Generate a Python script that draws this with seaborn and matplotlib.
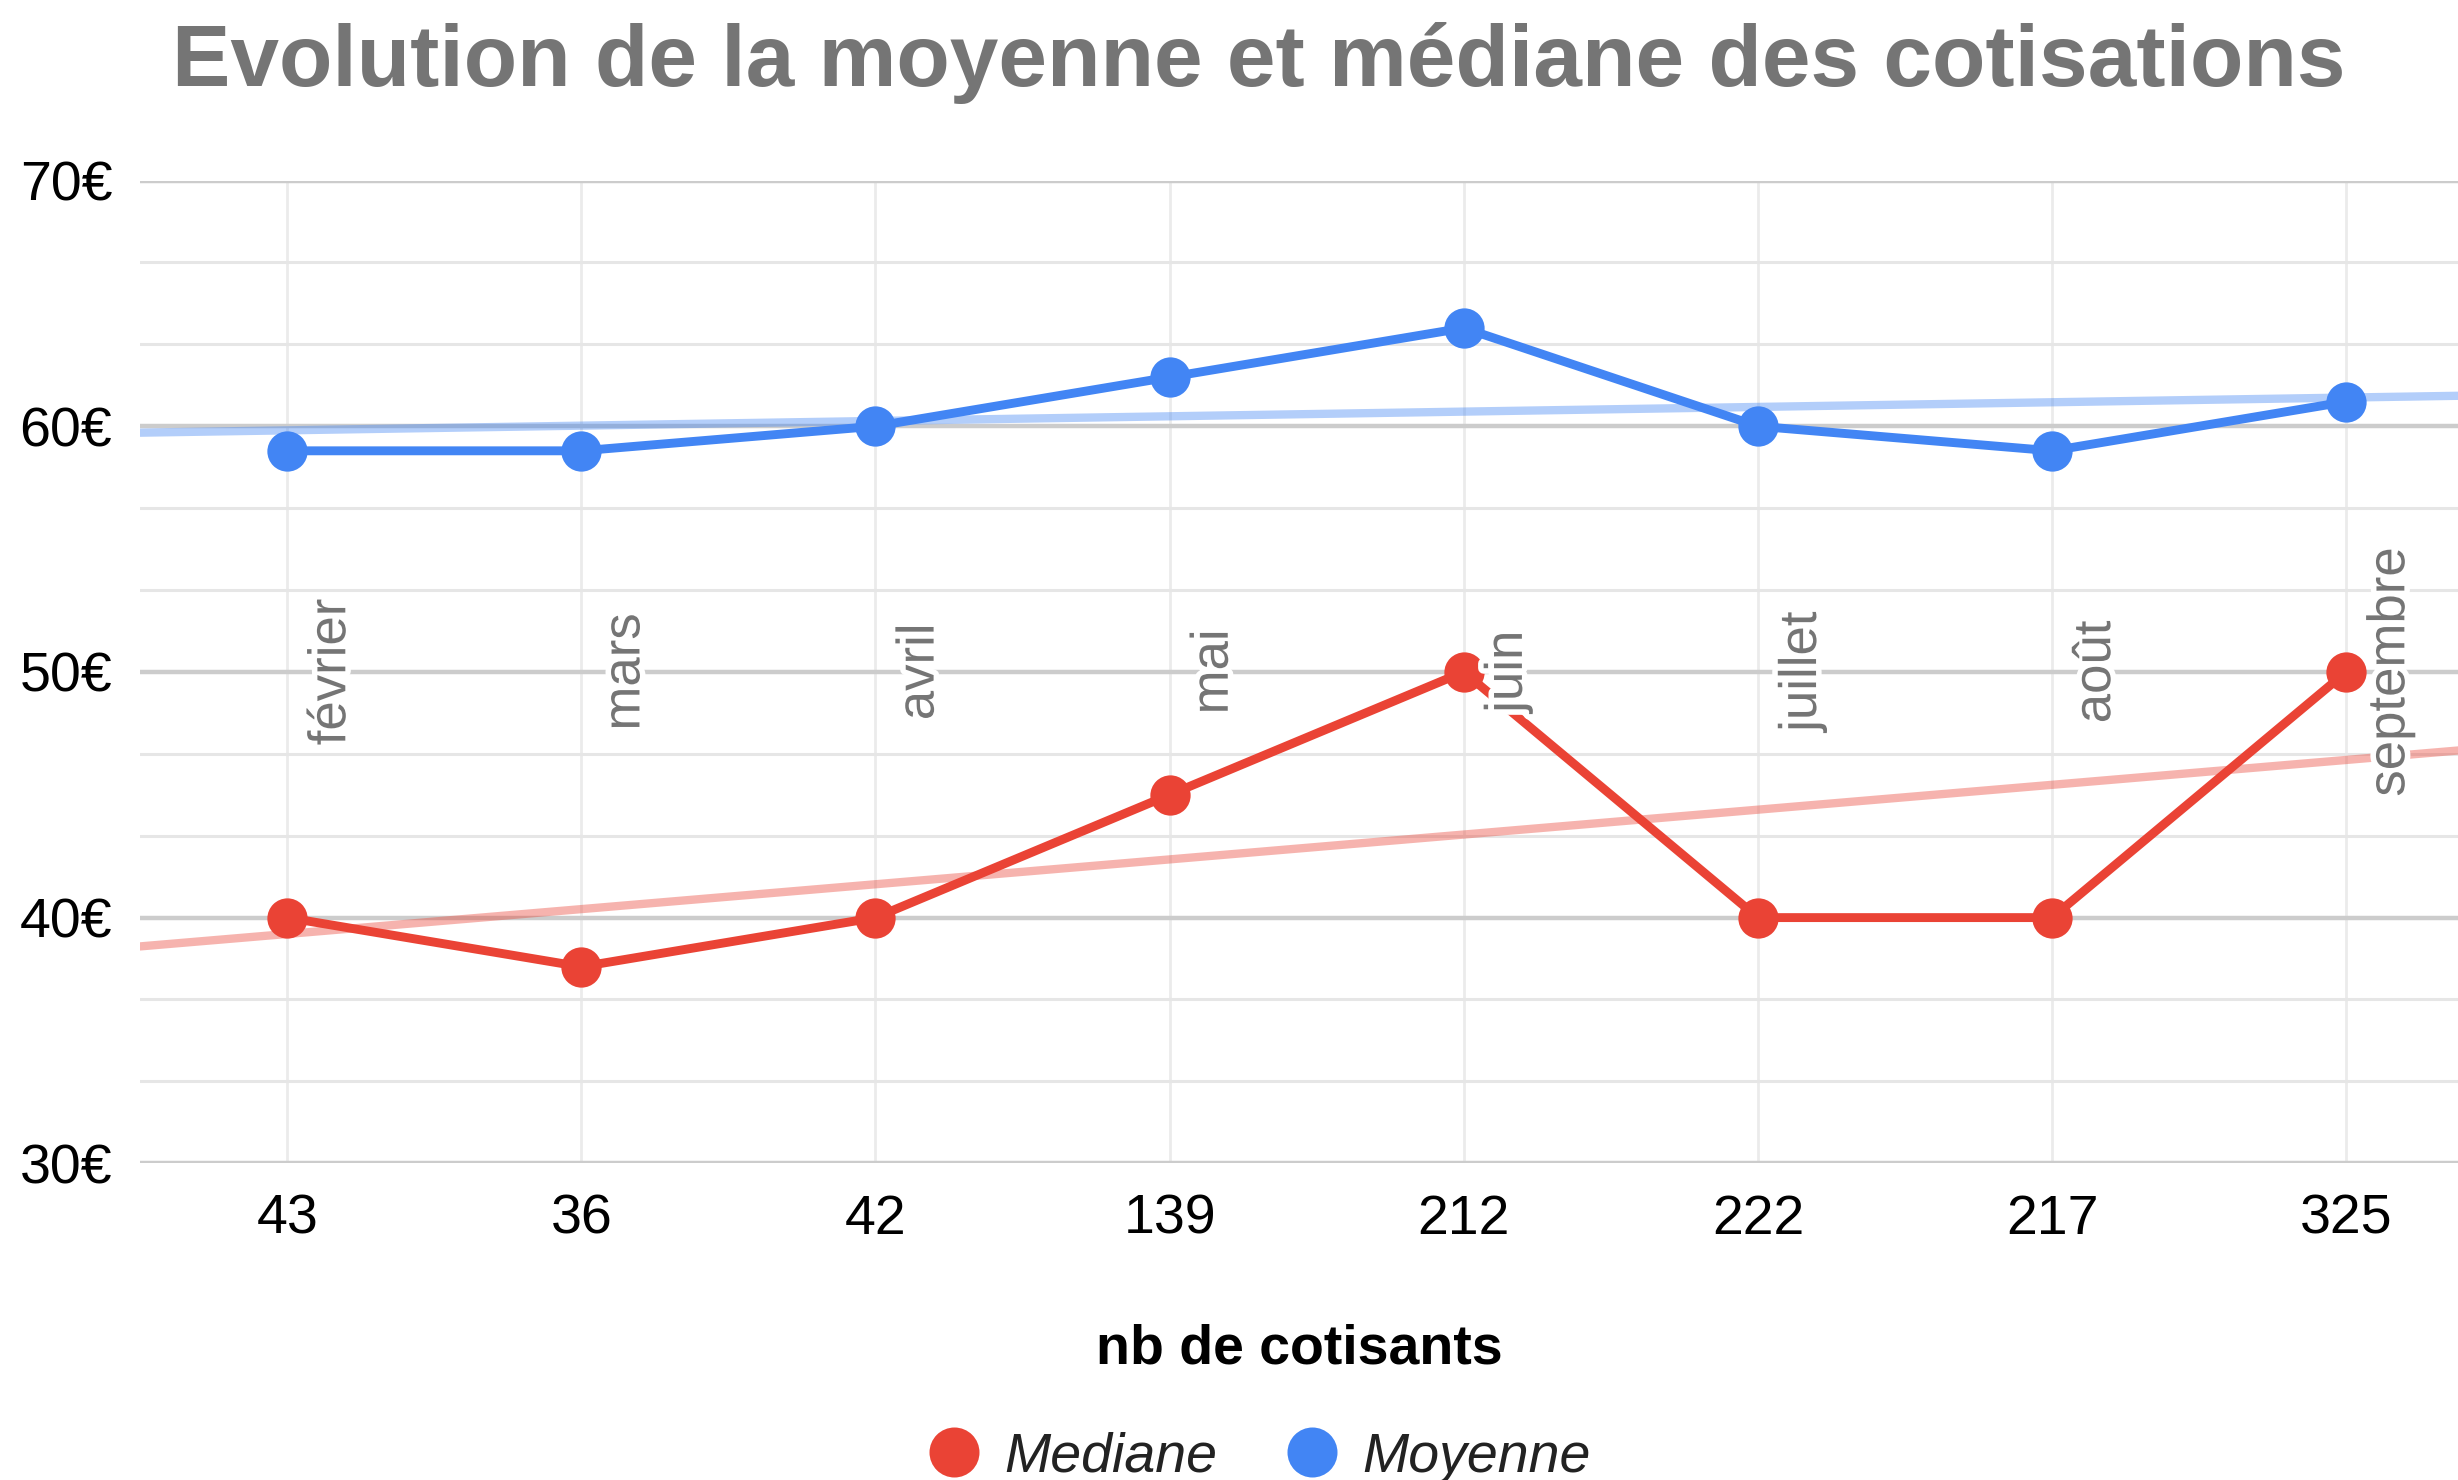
import matplotlib
matplotlib.use("Agg")
import matplotlib.pyplot as plt
import matplotlib.patheffects as pe
from matplotlib.lines import Line2D
from matplotlib.ticker import AutoMinorLocator, FuncFormatter
import pandas as pd
import seaborn as sns

# data
mois = ["février", "mars", "avril", "mai", "juin", "juillet", "août", "septembre"]
nb_cotisants = [43, 36, 42, 139, 212, 222, 217, 325]
mediane = [40, 38, 40, 45, 50, 40, 40, 50]
moyenne = [59, 59, 60, 62, 64, 60, 59, 61]

ROUGE = "#EA4335"
BLEU = "#4285F4"
GRIS = "#757575"

sns.set_style("white")
plt.rcParams["font.family"] = ["Liberation Sans", "DejaVu Sans"]

df = pd.DataFrame({
    "idx": range(len(mois)),
    "mois": mois,
    "nb": nb_cotisants,
    "Mediane": mediane,
    "Moyenne": moyenne,
})

fig = plt.figure(figsize=(12.29, 7.4), dpi=200)
ax = fig.add_axes([0.057, 0.214, 0.943, 0.664])
ax.set_xlim(-0.5, 7.38)
ax.set_ylim(30, 70)

# grid
ax.yaxis.set_minor_locator(AutoMinorLocator(3))
ax.grid(axis="y", which="major", color="#cccccc", lw=1.6, zorder=0)
ax.grid(axis="y", which="minor", color="#e6e6e6", lw=1.1, zorder=0)
ax.grid(axis="x", which="major", color="#ebebeb", lw=1.0, zorder=0)
ax.set_axisbelow(True)

# trendlines (linear fit on position)
sns.regplot(data=df, x="idx", y="Moyenne", scatter=False, ci=None, truncate=False,
            color=BLEU, line_kws={"alpha": 0.4, "lw": 3.0, "zorder": 2}, ax=ax)
sns.regplot(data=df, x="idx", y="Mediane", scatter=False, ci=None, truncate=False,
            color=ROUGE, line_kws={"alpha": 0.4, "lw": 3.0, "zorder": 2}, ax=ax)

# series
sns.lineplot(data=df, x="idx", y="Moyenne", color=BLEU, lw=3.2, marker="o",
             markersize=14.5, markeredgewidth=0, ax=ax, zorder=3)
sns.lineplot(data=df, x="idx", y="Mediane", color=ROUGE, lw=3.2, marker="o",
             markersize=14.5, markeredgewidth=0, ax=ax, zorder=3)

# month labels
for i, m in enumerate(mois):
    ax.text(i + 0.15, 50, m, rotation=90, ha="center", va="center",
            fontsize=19, color=GRIS, zorder=4,
            path_effects=[pe.withStroke(linewidth=4, foreground="white")])

ax.set_xticks(df["idx"])
ax.set_xticklabels([str(n) for n in nb_cotisants])
ax.set_yticks([30, 40, 50, 60, 70])
ax.yaxis.set_major_formatter(FuncFormatter(lambda v, p: f"{v:.0f}€"))
ax.tick_params(axis="both", which="both", length=0, labelsize=20, colors="black")
ax.tick_params(axis="y", pad=10)
ax.tick_params(axis="x", pad=11)
for s in ax.spines.values():
    s.set_visible(False)

ax.set_xlabel("nb de cotisants", fontsize=20, fontweight="bold", color="black", labelpad=28)
ax.set_ylabel("")

fig.text(0.512, 0.942, "Evolution de la moyenne et médiane des cotisations",
         ha="center", va="baseline", fontsize=31.5, fontweight="bold", color=GRIS)

handles = [
    Line2D([], [], ls="", marker="o", markersize=18, color=ROUGE, markeredgewidth=0),
    Line2D([], [], ls="", marker="o", markersize=18, color=BLEU, markeredgewidth=0),
]
fig.legend(handles, ["Mediane", "Moyenne"], loc="center", bbox_to_anchor=(0.512, 0.015),
           ncol=2, frameon=False, prop={"size": 20, "style": "italic"}, labelcolor="#222222",
           handletextpad=0.4, columnspacing=1.2, handlelength=1.0)

fig.savefig("out.png", dpi=200)
